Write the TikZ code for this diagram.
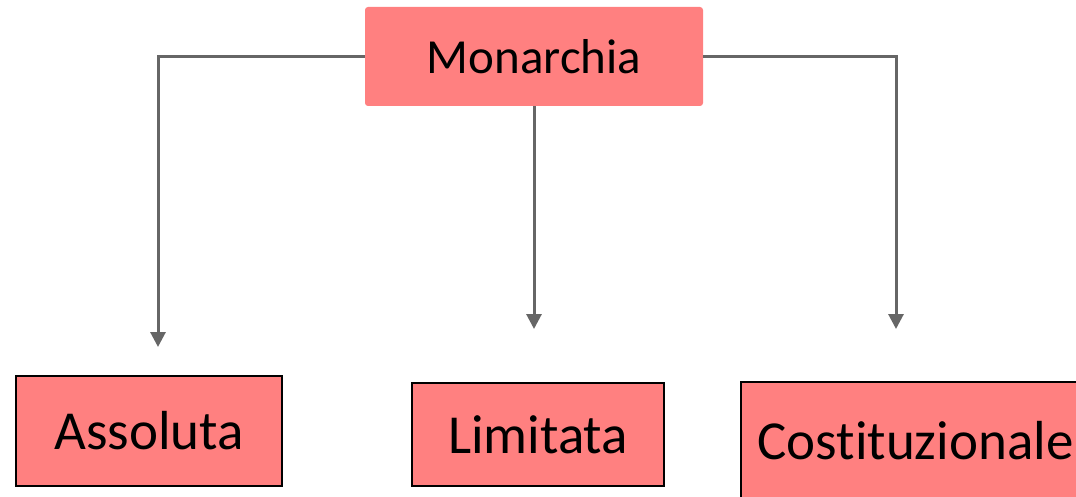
\documentclass[tikz,border=0pt]{standalone}
\usepackage{fontspec}
\setmainfont[Ligatures={NoCommon}]{Carlito}
\usetikzlibrary{arrows.meta}
\definecolor{boxred}{HTML}{FF8080}
\definecolor{linegray}{HTML}{666666}
\begin{document}
\begin{tikzpicture}[x=1pt,y=-1pt,
  topbox/.style={fill=boxred,draw=none,rounded corners=3pt,inner sep=0pt,font=\fontsize{49}{59}\selectfont},
  leafbox/.style={fill=boxred,draw=black,line width=1.5pt,inner sep=0pt,font=\fontsize{55}{66}\selectfont},
  conn/.style={draw=linegray,line width=3pt,-{Triangle[width=15pt,length=15pt]}}]
\useasboundingbox (0,0) rectangle (1076,497);
\clip (0,0) rectangle (1076,497);
\node[topbox,minimum width=338pt,minimum height=99pt] (mon) at (534,56.5) {Monarchia};
\node[leafbox,minimum width=266pt,minimum height=110pt] (ass) at (149,431) {Assoluta};
\node[leafbox,minimum width=252pt,minimum height=103pt] (lim) at (538,434.5) {Limitata};
\node[leafbox,minimum width=349pt,minimum height=118pt] (cos) at (915.5,441) {Costituzionale};
\coordinate (tl) at (158,347);
\coordinate (tm) at (534,329);
\coordinate (tr) at (896,329);
\draw[conn] (mon.west) -| (tl);
\draw[conn] (mon.south) -- (tm);
\draw[conn] (mon.east) -| (tr);
\end{tikzpicture}
\end{document}
